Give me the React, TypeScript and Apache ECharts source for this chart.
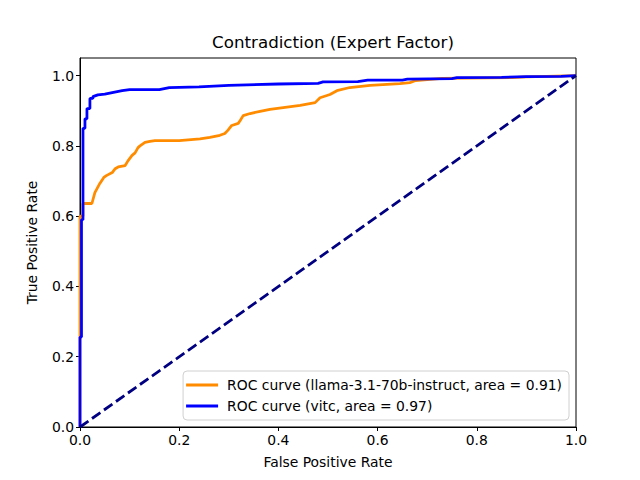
import React, { useEffect, useRef } from "react";
import * as echarts from "echarts";

const titleText = "Contradiction (Expert Factor)";
const xName = "False Positive Rate";
const yName = "True Positive Rate";
const tickValues = [0, 0.2, 0.4, 0.6, 0.8, 1.0];

const llamaName = "ROC curve (llama-3.1-70b-instruct, area = 0.91)";
const llamaRoc: number[][] = [
  [0, 0], [0, 0.6], [0.006, 0.6], [0.006, 0.636], [0.024, 0.636], [0.03, 0.667],
  [0.04, 0.693], [0.048, 0.71], [0.054, 0.716], [0.065, 0.724], [0.071, 0.735],
  [0.077, 0.74], [0.091, 0.744], [0.097, 0.758], [0.105, 0.773], [0.111, 0.78],
  [0.117, 0.795], [0.121, 0.8], [0.131, 0.81], [0.141, 0.813], [0.151, 0.815],
  [0.2, 0.815], [0.242, 0.82], [0.262, 0.824], [0.282, 0.83], [0.292, 0.835],
  [0.298, 0.844], [0.306, 0.858], [0.319, 0.864], [0.323, 0.872], [0.329, 0.886],
  [0.343, 0.892], [0.363, 0.898], [0.383, 0.904], [0.444, 0.915], [0.474, 0.923],
  [0.484, 0.937], [0.504, 0.946], [0.518, 0.957], [0.544, 0.966], [0.585, 0.972],
  [0.645, 0.977], [0.665, 0.98], [0.677, 0.986], [0.706, 0.989], [0.73, 0.992],
  [0.87, 0.994], [0.9, 0.996], [1, 1],
];

const vitcName = "ROC curve (vitc, area = 0.97)";
const vitcRoc: number[][] = [
  [0, 0], [0, 0.256], [0.003, 0.256], [0.003, 0.59], [0.006, 0.59], [0.006, 0.85],
  [0.01, 0.85], [0.01, 0.877], [0.014, 0.877], [0.014, 0.906], [0.02, 0.906],
  [0.02, 0.935], [0.026, 0.935], [0.026, 0.94], [0.036, 0.945], [0.05, 0.947],
  [0.06, 0.95], [0.07, 0.953], [0.085, 0.957], [0.1, 0.96], [0.16, 0.96],
  [0.18, 0.966], [0.24, 0.968], [0.3, 0.972], [0.4, 0.976], [0.48, 0.978],
  [0.49, 0.982], [0.56, 0.983], [0.58, 0.987], [0.65, 0.987], [0.66, 0.99],
  [0.75, 0.991], [0.76, 0.994], [0.85, 0.995], [0.9, 0.997], [0.97, 0.998], [1, 1],
];

const chanceLine: number[][] = [[0, 0], [1, 1]];

const FONT = "DejaVu Sans";

export default function App() {
  const ref = useRef<HTMLDivElement>(null);
  useEffect(() => {
    if (!ref.current) return;
    const chart = echarts.init(ref.current, undefined, { renderer: "svg" });
    const axisCommon = {
      axisLine: { show: true, onZero: false, lineStyle: { color: "#000", width: 1 } },
      axisTick: { show: true, inside: false, length: 4, lineStyle: { color: "#000", width: 1 }, customValues: tickValues },
      axisLabel: {
        color: "#000", fontFamily: FONT, fontSize: 13.9, margin: 6,
        customValues: tickValues,
        formatter: (v: number) => v.toFixed(1),
      },
      splitLine: { show: false },
      nameLocation: "middle" as const,
      nameTextStyle: { color: "#000", fontFamily: FONT, fontSize: 13.9 },
    };
    chart.setOption({
      animation: false,
      backgroundColor: "#fff",
      title: {
        text: titleText, left: 328, top: 28, textAlign: "center",
        textStyle: { fontFamily: FONT, fontSize: 16.7, fontWeight: "normal", color: "#000" },
      },
      grid: { left: 80, right: 64, top: 58, bottom: 53, show: true, borderColor: "#000", borderWidth: 1, backgroundColor: "transparent" },
      xAxis: { type: "value", min: 0, max: 1, ...axisCommon, name: xName, nameGap: 28 },
      yAxis: { type: "value", min: 0, max: 1.05, ...axisCommon, name: yName, nameGap: 41 },
      legend: {
        data: [llamaName, vitcName],
        orient: "vertical", right: 71, bottom: 60, align: "left",
        icon: "rect",
        backgroundColor: "#fff", borderColor: "#d0d0d0", borderWidth: 1, borderRadius: 4,
        padding: [6, 7, 6, 3], itemGap: 5, itemWidth: 32, itemHeight: 3,
        textStyle: { fontFamily: FONT, fontSize: 13.9, color: "#000", lineHeight: 16, padding: [0, 0, 0, 4] },
      },
      series: [
        {
          type: "line", name: llamaName, data: llamaRoc, symbol: "none",
          lineStyle: { color: "darkorange", width: 2.78 }, itemStyle: { color: "darkorange" },
        },
        {
          type: "line", name: vitcName, data: vitcRoc, symbol: "none",
          lineStyle: { color: "blue", width: 2.78 }, itemStyle: { color: "blue" },
        },
        {
          type: "line", name: "chance", data: chanceLine, symbol: "none",
          lineStyle: { color: "navy", width: 2.78, type: [10.3, 4.4] },
        },
      ],
    });
    return () => chart.dispose();
  }, []);
  return <div ref={ref} style={{ width: 640, height: 480, position: "absolute", left: 0, top: 0 }} />;
}
